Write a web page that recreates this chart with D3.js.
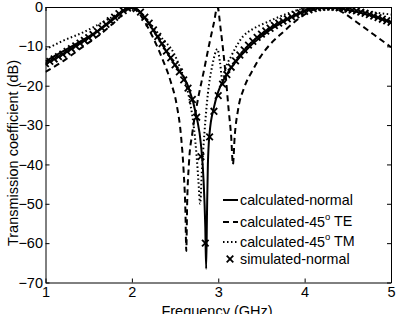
<!DOCTYPE html>
<html>
<head>
<meta charset="utf-8">
<script src="https://cdn.jsdelivr.net/npm/d3@7"></script>
<style>
  body { margin: 0; background: #fff; }
  svg { display: block; font-family: "Liberation Sans", Arial, sans-serif; }
  .axis text { font-size: 14.5px; fill: #000; }
  .axis path, .axis line { stroke: #000; stroke-width: 1; }
</style>
</head>
<body>
<svg id="chart" width="398" height="314"></svg>
<script>
// calculated-normal
var freqSolid = [1.0, 1.2, 1.4, 1.6, 1.75, 1.85, 1.95, 2.0, 2.05, 2.15, 2.25, 2.4, 2.5, 2.64, 2.75, 2.8, 2.83, 2.85, 2.86,
                 2.87, 2.88, 2.9, 2.95, 3.0, 3.08, 3.2, 3.37, 3.5, 3.6, 3.75, 3.9, 4.06, 4.2, 4.3, 4.4, 4.6, 4.8, 5.0];
var dbSolid = [-13.8, -11.3, -8.8, -6.2, -3.8, -2.0, -0.4, 0, -0.5, -2.8, -6.0, -11.3, -14.8, -19.5, -28, -35, -44, -56, -66.5,
               -52, -40, -32, -25.5, -21.5, -17.8, -14, -9.9, -7.5, -5.8, -3.8, -2.0, -0.5, -0.05, 0, -0.3, -1.2, -2.4, -3.8];

// calculated-45 TE
var freqTE = [1.0, 1.2, 1.44, 1.6, 1.75, 1.85, 1.95, 2.0, 2.05, 2.15, 2.25, 2.35, 2.45, 2.52, 2.57, 2.6, 2.62, 2.63, 2.64,
              2.66, 2.7, 2.76, 2.83, 2.9, 2.95, 2.99, 3.03, 3.08, 3.12, 3.15, 3.17, 3.19, 3.23, 3.3, 3.4, 3.49, 3.6, 3.75,
              3.9, 4.03, 4.15, 4.3, 4.45, 4.6, 4.8, 5.0];
var dbTE = [-16.5, -13.8, -10, -7.5, -4.8, -2.8, -0.6, 0, -0.8, -3.8, -8, -13, -19, -25, -33, -42, -52, -62, -50,
            -40, -32, -24, -16.6, -9, -4, 0, -6, -16, -26, -33, -40, -33, -26, -20.5, -16, -12.6, -9.5, -6.4,
            -3.5, -1.5, -0.4, 0, -1.5, -3.8, -7, -10.2];

// calculated-45 TM
var freqTM = [1.0, 1.2, 1.44, 1.6, 1.75, 1.85, 1.95, 2.0, 2.05, 2.15, 2.25, 2.35, 2.48, 2.56, 2.63, 2.68, 2.72, 2.75, 2.77,
              2.79, 2.81, 2.84, 2.88, 2.93, 2.99, 3.02, 3.05, 3.08, 3.15, 3.29, 3.4, 3.57, 3.75, 3.95, 4.1, 4.2, 4.35,
              4.5, 4.7, 4.85, 5.0];
var dbTM = [-10.8, -8.6, -6.4, -4.6, -2.8, -1.6, -0.3, 0, -0.5, -2.6, -5.2, -8, -11.5, -15.5, -20, -25, -31, -38, -44,
            -50, -42, -32, -22, -15, -10.7, -14, -19, -16, -12.5, -7.4, -5.6, -3.8, -2.1, -0.6, -0.1, 0, -0.2,
            -0.6, -1.1, -1.5, -1.9];

// simulated-normal
var freqSim = [1.00, 1.05, 1.10, 1.15, 1.20, 1.25, 1.30, 1.35, 1.40, 1.45, 1.50, 1.55, 1.60, 1.65, 1.70, 1.75, 1.80,
               1.85, 1.90, 1.95, 2.00, 2.05, 2.10, 2.15, 2.20, 2.25, 2.30, 2.35, 2.40, 2.45, 2.50, 2.55, 2.60, 2.65,
               2.70, 2.75, 2.80, 2.85, 2.90, 2.95, 3.00, 3.05, 3.10, 3.15, 3.20, 3.25, 3.30, 3.35, 3.40, 3.45, 3.50,
               3.55, 3.60, 3.65, 3.70, 3.75, 3.80, 3.85, 3.90, 3.95, 4.00, 4.05, 4.10, 4.15, 4.20, 4.25, 4.30, 4.35,
               4.40, 4.45, 4.50, 4.55, 4.60, 4.65, 4.70, 4.75, 4.80, 4.85, 4.90, 4.95, 5.00];
var dbSim = [-14.4, -13.8, -13.2, -12.6, -12.0, -11.3, -10.6, -9.9, -9.2, -8.5, -7.8, -7.0, -6.2, -5.3, -4.4, -3.5, -2.6,
             -1.7, -0.9, -0.3, 0, -0.4, -1.3, -2.6, -4.1, -5.8, -7.5, -9.3, -11.2, -12.9, -14.7, -16.5, -18.5, -20.6,
             -23.5, -28, -38, -60, -33, -26.5, -22.5, -19.6, -17.2, -15.3, -13.7, -12.2, -10.9, -9.7, -8.7, -7.7, -6.9,
             -6.1, -5.4, -4.7, -4.1, -3.6, -3.0, -2.5, -2.0, -1.5, -1.1, -0.7, -0.4, -0.2, -0.1, 0, 0, -0.1,
             -0.2, -0.4, -0.6, -0.8, -1.0, -1.3, -1.6, -1.9, -2.3, -2.7, -3.1, -3.5, -3.9];

var xTicks = [1, 2, 3, 4, 5];
var yTicks = [0, -10, -20, -30, -40, -50, -60, -70];

var svg = d3.select("#chart");
var margin = {top: 7, right: 7, bottom: 31, left: 45.5},
    width = 398 - margin.left - margin.right,
    height = 314 - margin.top - margin.bottom - 0.5;

var x = d3.scaleLinear().domain([1, 5]).range([0, width]);
var y = d3.scaleLinear().domain([-70, 0]).range([height, 0]);

var g = svg.append("g").attr("transform", "translate(" + margin.left + "," + margin.top + ")");

// axes, ticks inside like matlab
g.append("g").attr("class", "axis")
  .attr("transform", "translate(0," + height + ")")
  .call(d3.axisBottom(x).tickValues(xTicks).tickSizeInner(-4).tickSizeOuter(0).tickPadding(4).tickFormat(d3.format("d")));
g.append("g").attr("class", "axis")
  .call(d3.axisLeft(y).tickValues(yTicks).tickSizeInner(-4).tickSizeOuter(0).tickPadding(2.5).tickFormat(d3.format("d")));
g.append("g").attr("class", "axis")
  .call(d3.axisTop(x).tickValues(xTicks).tickSizeInner(-4).tickSizeOuter(0).tickFormat(""));
g.append("g").attr("class", "axis")
  .attr("transform", "translate(" + width + ",0)")
  .call(d3.axisRight(y).tickValues(yTicks).tickSizeInner(-4).tickSizeOuter(0).tickFormat(""));

var line = d3.line()
  .x(function (d) { return x(d[0]); })
  .y(function (d) { return y(d[1]); })
  .curve(d3.curveMonotoneX);

function zip(a, b) { return a.map(function (v, i) { return [v, b[i]]; }); }

g.append("clipPath").attr("id", "clip").append("rect")
  .attr("width", width).attr("height", height);

var plot = g.append("g").attr("clip-path", "url(#clip)");

plot.append("path").datum(zip(freqTM, dbTM))
  .attr("fill", "none").attr("stroke", "#000").attr("stroke-width", 2)
  .attr("stroke-dasharray", "1.5,2.5").attr("d", line);
plot.append("path").datum(zip(freqTE, dbTE))
  .attr("fill", "none").attr("stroke", "#000").attr("stroke-width", 2)
  .attr("stroke-dasharray", "6,4").attr("d", line);
plot.append("path").datum(zip(freqSolid, dbSolid))
  .attr("fill", "none").attr("stroke", "#000").attr("stroke-width", 2).attr("d", line);

var cross = d3.symbol().type(d3.symbolTimes || d3.symbolX).size(30);
plot.selectAll(".sim").data(zip(freqSim, dbSim)).enter().append("path")
  .attr("class", "sim")
  .attr("transform", function (d) { return "translate(" + x(d[0]) + "," + y(d[1]) + ")"; })
  .attr("d", cross)
  .attr("fill", "none").attr("stroke", "#000").attr("stroke-width", 1.8);

// legend
var legendItems = [
  {label: "calculated-normal", sup: null, tail: "", dash: null, y: 200},
  {label: "calculated-45", sup: "o", tail: " TE", dash: "6,4", y: 222},
  {label: "calculated-45", sup: "o", tail: " TM", dash: "1.5,2.5", y: 242},
  {label: "simulated-normal", sup: null, tail: "", dash: "marker", y: 259}
];
var leg = svg.append("g");
legendItems.forEach(function (it) {
  if (it.dash === "marker") {
    leg.append("path").attr("transform", "translate(230," + it.y + ")")
      .attr("d", cross).attr("fill", "none").attr("stroke", "#000").attr("stroke-width", 1.8);
  } else {
    leg.append("line").attr("x1", 223).attr("x2", 238).attr("y1", it.y).attr("y2", it.y)
      .attr("stroke", "#000").attr("stroke-width", 2)
      .attr("stroke-dasharray", it.dash);
  }
  var t = leg.append("text").attr("x", 240).attr("y", it.y).attr("dy", "0.35em")
    .attr("font-size", 14.3).text(it.label);
  if (it.sup) {
    t.append("tspan").attr("font-size", 9.5).attr("dy", "-0.75em").text(it.sup);
    t.append("tspan").attr("dy", "0.45em").text(it.tail);
  }
});

// axis labels
svg.append("text").attr("x", 217).attr("y", 316)
  .attr("text-anchor", "middle").attr("font-size", 14.5).text("Frequency (GHz)");
svg.append("text")
  .attr("transform", "translate(13,153) rotate(-90)")
  .attr("text-anchor", "middle").attr("dy", "0.35em").attr("font-size", 14.5)
  .text("Transmission coefficient (dB)");
</script>
</body>
</html>
